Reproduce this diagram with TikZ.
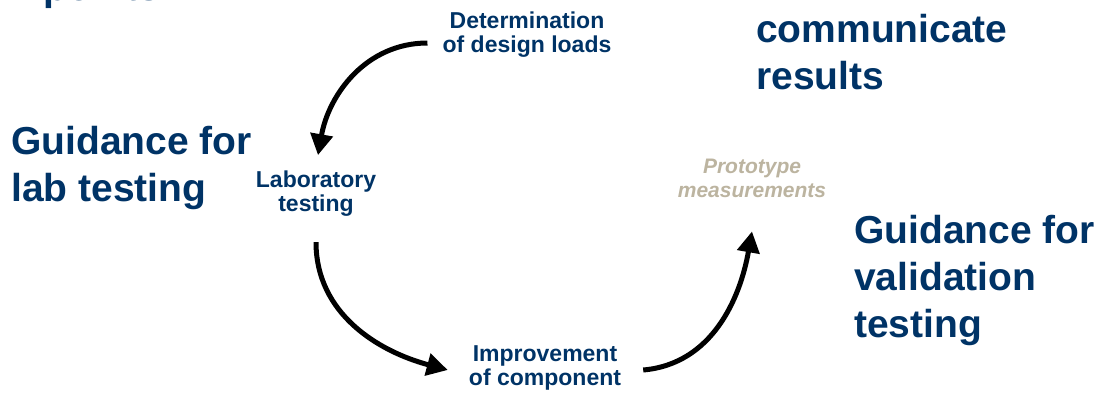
\documentclass[tikz,border=0pt]{standalone}
\usepackage{fontspec}
\setmainfont{Liberation Sans}
\usetikzlibrary{arrows.meta,calc}
\definecolor{navy}{RGB}{0,51,102}
\definecolor{taupe}{RGB}{188,180,160}
\tikzset{
  bigtext/.style={font=\fontsize{39}{47}\selectfont\bfseries, text=navy, align=left, inner sep=0pt, anchor=base west},
  steplabel/.style={font=\fontsize{23}{24}\selectfont\bfseries, text=navy, align=center, inner sep=0pt, anchor=base},
  greylabel/.style={font=\fontsize{21}{24}\selectfont\bfseries\itshape, text=taupe, align=center, inner sep=0pt, anchor=base},
  cyclearrow/.style={line width=5pt, -{Triangle[width=22pt,length=21pt]}}
}
\begin{document}
\begin{tikzpicture}[x=1pt,y=1pt]
\useasboundingbox (0,0) rectangle (1104,-392);
\clip (0,0) rectangle (1104,-392);
% big guidance texts (anchor = baseline of last line)
\node[bigtext] (pts) at (43,0) {points:};
\node[bigtext] (glab) at (11,-201) {Guidance for\\lab testing};
\node[bigtext] (comm) at (756,-89) {communicate\\results};
\node[bigtext] (gval) at (854,-337) {Guidance for\\validation\\testing};
% cycle labels
\node[steplabel] (det) at (527,-52) {Determination\\of design loads};
\node[steplabel] (lab) at (316,-211) {Laboratory\\testing};
\node[greylabel] (proto) at (752,-197) {Prototype\\measurements};
\node[steplabel] (imp) at (545,-385) {Improvement\\of component};
% arrows
\draw[cyclearrow] ($(det.base west)+(-15,9)$) to[out=180,in=80] ($(lab.north)+(2,15)$);
\draw[cyclearrow] ($(lab.south)+(0,-26)$) to[out=-90,in=165] ($(imp.base west)+(-21,15)$);
\draw[cyclearrow] ($(imp.base east)+(22,15)$) to[out=5,in=-100] ($(proto.south)+(0,-34)$);
\end{tikzpicture}
\end{document}
